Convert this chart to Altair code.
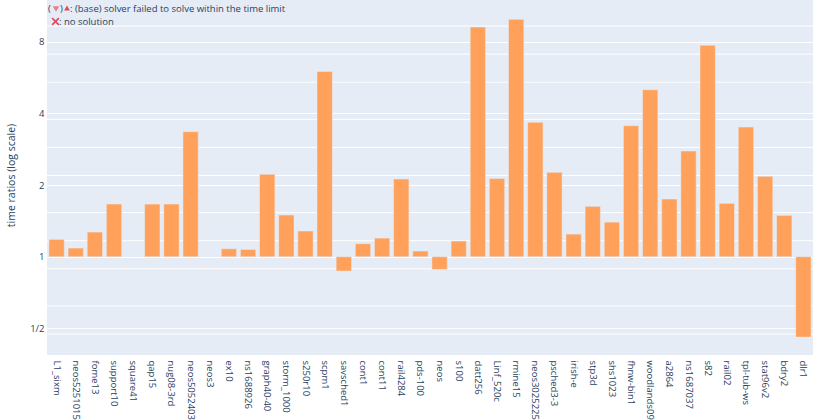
import altair as alt
import pandas as pd

instances = ["L1_sixm", "neos5251015", "fome13", "support10", "square41", "qap15",
             "nug08-3rd", "neos5052403", "neos3", "ex10", "ns1688926", "graph40-40",
             "storm_1000", "s250r10", "scpm1", "savsched1", "cont1", "cont11",
             "rail4284", "pds-100", "neos", "s100", "datt256", "Linf_520c",
             "rmine15", "neos3025225", "psched3-3", "irish-e", "stp3d", "shs1023",
             "fhnw-bin1", "woodlands09", "a2864", "ns1687037", "s82", "rail02",
             "tpl-tub-ws", "stat96v2", "bdry2", "dlr1"]
ratios = [1.183, 1.088, 1.270, 1.664, None, 1.664,
          1.664, 3.35, None, 1.080, 1.074, 2.218,
          1.497, 1.282, 6.00, 0.871, 1.134, 1.198,
          2.120, 1.057, 0.885, 1.164, 9.21, 2.130,
          9.92, 3.667, 2.261, 1.245, 1.628, 1.398,
          3.548, 5.025, 1.747, 2.778, 7.72, 1.676,
          3.504, 2.175, 1.492, 0.460]

y_tick_values = [0.5, 1, 2, 4, 8]
y_tick_labels = ["1/2", "1", "2", "4", "8"]
minor_grid_values = [1, 2, 5, 10, 20, 50, 100, 200, 500, 1000, 2000]

legend_line1 = ": (base) solver failed to solve within the time limit"
legend_line2 = ": no solution"

FONT = "Open Sans"
TXT = "#2a3f5f"
RED = "#E5475A"

df = pd.DataFrame({"instance": instances, "ratio": ratios})

label_expr = " : ".join(
    f"datum.value == {v} ? '{l}'" for v, l in zip(y_tick_values, y_tick_labels)
) + " : ''"

minor = alt.Chart(pd.DataFrame({"s": minor_grid_values})).mark_rule(
    color="white", strokeWidth=1
).encode(
    y=alt.Y("s:Q",
            scale=alt.Scale(type="log", domain=[0.596, 3803], nice=False),
            axis=None)
)

bars = alt.Chart(df).mark_bar(color="#FFA15A", stroke="#E5ECF6", strokeWidth=0.5).encode(
    x=alt.X("instance:N", sort=instances,
            scale=alt.Scale(paddingInner=0.2, paddingOuter=0.1),
            axis=alt.Axis(title=None, labelAngle=90, ticks=False, domain=False,
                          labelPadding=5, labelFont=FONT, labelFontSize=9.5,
                          labelColor=TXT, grid=False, labelOverlap=False,
                          labelLimit=200)),
    y=alt.Y("ratio:Q",
            scale=alt.Scale(type="log", domain=[0.387, 11.96], nice=False),
            axis=alt.Axis(values=y_tick_values, labelExpr=label_expr,
                          title="time ratios (log scale)", grid=True,
                          gridColor="white", gridWidth=1, ticks=False,
                          domain=False, labelPadding=3, labelFont=FONT,
                          labelFontSize=9.5, labelColor=TXT, titleFont=FONT,
                          titleFontSize=10.5, titleFontWeight="normal",
                          titleColor=TXT, titleX=-36, titleY=175,
                          titleAngle=-90, titleAlign="center",
                          titleBaseline="middle")),
    y2=alt.datum(1),
)


def txt(s, x, y):
    return alt.Chart(pd.DataFrame({"t": [s]})).mark_text(
        align="left", baseline="middle", font=FONT, fontSize=9.5, color=TXT
    ).encode(text="t:N", x=alt.value(x), y=alt.value(y))


def sym(shape, x, y, size, opacity=1.0, filled=True):
    kw = dict(shape=shape, size=size, opacity=opacity, filled=filled)
    if filled:
        kw["fill"] = RED
        kw["strokeWidth"] = 0
    else:
        kw["stroke"] = RED
        kw["strokeWidth"] = 1.6
    return alt.Chart(pd.DataFrame({"k": [0]})).mark_point(**kw).encode(
        x=alt.value(x), y=alt.value(y))


# x positions are relative to the plot area's left edge
legend = [
    txt("(", 1, 8.5),
    sym("triangle-down", 9, 9, 42, opacity=0.65),
    txt(")", 13, 8.5),
    sym("triangle-up", 20, 8, 34),
    txt(legend_line1, 23, 8.5),
    sym("M-1,-1L1,1M-1,1L1,-1", 8.5, 21.5, 45, filled=False),
    txt(legend_line2, 12, 21.5),
]

chart = alt.layer(minor, bars, *legend).resolve_scale(y="independent").properties(
    width=766, height=355,
    autosize=alt.AutoSizeParams(type="none"),
    padding={"left": 47, "top": 0, "right": 1, "bottom": 65},
    background="white",
).configure_view(fill="#E5ECF6", stroke=None)

chart.save("out.html", embed_options={"renderer": "svg", "actions": False})
